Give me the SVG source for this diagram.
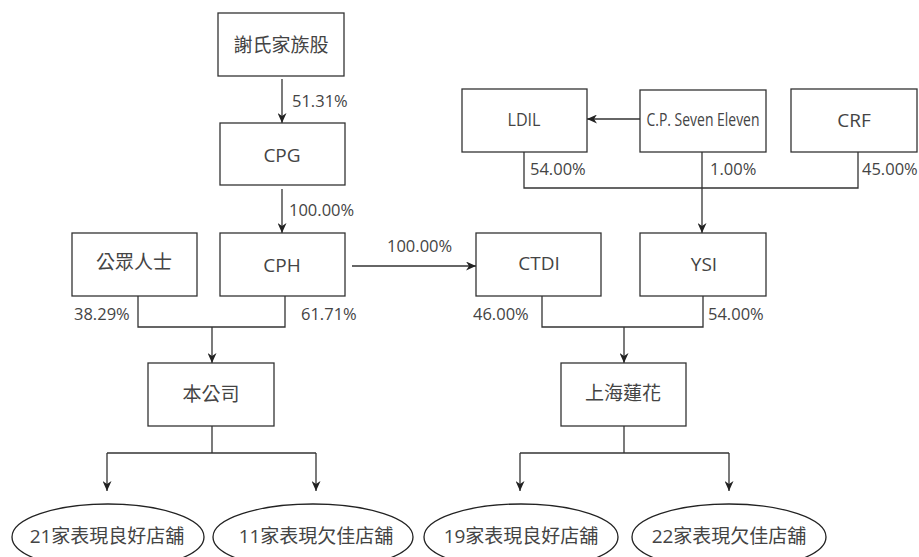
<svg xmlns="http://www.w3.org/2000/svg" width="919" height="557" viewBox="0 0 919 557">
<style>
.box{fill:#fff;stroke:#333;stroke-width:1.3}
.ell{fill:#fff;stroke:#222;stroke-width:1.3}
.ln{fill:none;stroke:#333;stroke-width:1.3}
text{font-family:"Open Sans","Noto Sans CJK TC",sans-serif;fill:#444}
.t{font-size:19px;text-anchor:middle}
.p{font-size:16.5px}
</style>
<defs>
<marker id="ah" markerUnits="userSpaceOnUse" viewBox="0 0 10 9" refX="10" refY="4.5" markerWidth="10" markerHeight="9" orient="auto">
<path d="M0,0 L10,4.5 L0,9 L3,4.5 z" fill="#222"/>
</marker>
</defs>
<g id="connectors">
<line class="ln" x1="282" y1="79" x2="282" y2="123" marker-end="url(#ah)"/>
<line class="ln" x1="282" y1="189" x2="282" y2="233" marker-end="url(#ah)"/>
<line class="ln" x1="352" y1="266" x2="476" y2="266" marker-end="url(#ah)"/>
<line class="ln" x1="640" y1="119" x2="587" y2="119" marker-end="url(#ah)"/>
<polyline class="ln" points="524,152 524,188 858,188 858,152"/>
<line class="ln" x1="702" y1="152" x2="702" y2="233" marker-end="url(#ah)"/>
<polyline class="ln" points="138,296 138,327 285,327 285,296"/>
<line class="ln" x1="212" y1="327" x2="212" y2="363" marker-end="url(#ah)"/>
<polyline class="ln" points="542,296 542,327 703,327 703,296"/>
<line class="ln" x1="624" y1="327" x2="624" y2="363" marker-end="url(#ah)"/>
<line class="ln" x1="212" y1="426" x2="212" y2="453"/>
<line class="ln" x1="107" y1="453" x2="316" y2="453"/>
<line class="ln" x1="107" y1="453" x2="107" y2="491" marker-end="url(#ah)"/>
<line class="ln" x1="316" y1="453" x2="316" y2="491" marker-end="url(#ah)"/>
<line class="ln" x1="624" y1="426" x2="624" y2="453"/>
<line class="ln" x1="520" y1="453" x2="729" y2="453"/>
<line class="ln" x1="520" y1="453" x2="520" y2="491" marker-end="url(#ah)"/>
<line class="ln" x1="729" y1="453" x2="729" y2="491" marker-end="url(#ah)"/>
<text class="p" x="292" y="107">51.31%</text>
<text class="p" x="289" y="216">100.00%</text>
<text class="p" x="387" y="252">100.00%</text>
<text class="p" x="530" y="175">54.00%</text>
<text class="p" x="710" y="175">1.00%</text>
<text class="p" x="862" y="175">45.00%</text>
<text class="p" x="74" y="320">38.29%</text>
<text class="p" x="301" y="320">61.71%</text>
<text class="p" x="473" y="320">46.00%</text>
<text class="p" x="708" y="320">54.00%</text>
</g>
<g id="xie"><rect class="box" x="218" y="13" width="126" height="63"/><text class="t" x="281" y="52">謝氏家族股</text></g>
<g id="cpg"><rect class="box" x="220" y="123" width="125" height="62"/><text class="t" x="282" y="162">CPG</text></g>
<g id="cph"><rect class="box" x="220" y="233" width="125" height="63"/><text class="t" x="282" y="272">CPH</text></g>
<g id="public"><rect class="box" x="72" y="233" width="125" height="63"/><text class="t" x="134" y="269">公眾人士</text></g>
<g id="ldil"><rect class="box" x="462" y="89" width="125" height="63"/><text class="t" x="524" y="126" textLength="33" lengthAdjust="spacingAndGlyphs">LDIL</text></g>
<g id="cp711"><rect class="box" x="640" y="90" width="126" height="62"/><text class="t" x="703" y="126" textLength="113" lengthAdjust="spacingAndGlyphs">C.P. Seven Eleven</text></g>
<g id="crf"><rect class="box" x="791" y="89" width="126" height="63"/><text class="t" x="854" y="127">CRF</text></g>
<g id="ctdi"><rect class="box" x="476" y="233" width="125" height="63"/><text class="t" x="539" y="270">CTDI</text></g>
<g id="ysi"><rect class="box" x="640" y="233" width="126" height="63"/><text class="t" x="704" y="271">YSI</text></g>
<g id="company"><rect class="box" x="148" y="363" width="126" height="63"/><text class="t" x="211" y="401">本公司</text></g>
<g id="lianhua"><rect class="box" x="561" y="363" width="125" height="63"/><text class="t" x="623" y="400">上海蓮花</text></g>
<g id="e1"><ellipse class="ell" cx="108" cy="537" rx="96" ry="33"/><text class="t" x="107" y="543">21家表現良好店舖</text></g>
<g id="e2"><ellipse class="ell" cx="313" cy="537" rx="100" ry="33"/><text class="t" x="316" y="543">11家表現欠佳店舖</text></g>
<g id="e3"><ellipse class="ell" cx="521" cy="537" rx="97" ry="33"/><text class="t" x="521" y="543">19家表現良好店舖</text></g>
<g id="e4"><ellipse class="ell" cx="729" cy="537" rx="97" ry="33"/><text class="t" x="729" y="543">22家表現欠佳店舖</text></g>
</svg>
